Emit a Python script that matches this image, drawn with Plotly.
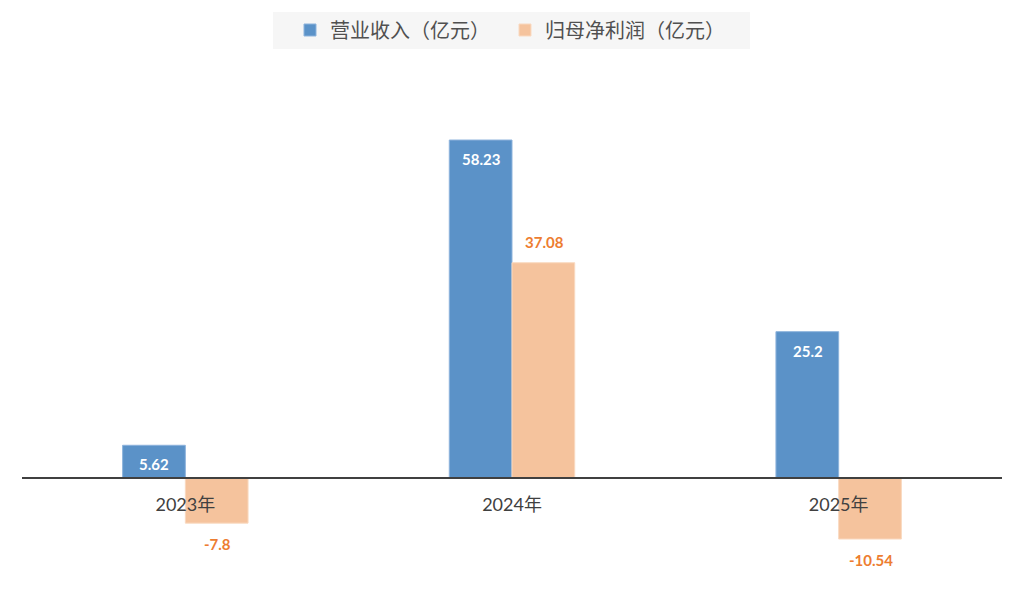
import plotly.graph_objects as go

# Data
years = ["2023年", "2024年", "2025年"]
revenue = [5.62, 58.23, 25.2]
net_profit = [-7.8, 37.08, -10.54]
revenue_labels = ["5.62", "58.23", "25.2"]
profit_labels = ["-7.8", "37.08", "-10.54"]

blue = "#5B92C8"
orange = "#F5C39D"
num_font = "Lato, Noto Sans CJK SC"

fig = go.Figure()

fig.add_trace(go.Bar(
    x=years, y=revenue, name="营业收入（亿元）",
    marker=dict(color=blue, line=dict(color="#8DB3DC", width=1)),
))

fig.add_trace(go.Bar(
    x=years, y=net_profit, name="归母净利润（亿元）",
    marker=dict(color=orange, line=dict(color="#F9D9C0", width=1)),
))

# value labels
for yr, v, lab in zip(years, revenue, revenue_labels):
    fig.add_annotation(
        x=yr, y=v, text=f"<b>{lab}</b>", showarrow=False,
        xshift=-31, yshift=-19,
        font=dict(color="white", size=15, family=num_font),
    )
for yr, v, lab in zip(years, net_profit, profit_labels):
    fig.add_annotation(
        x=yr, y=v, text=f"<b>{lab}</b>", showarrow=False,
        xshift=32, yshift=21 if v > 0 else -21,
        font=dict(color="#ED7D31", size=15, family=num_font),
    )

# light grey band behind the legend
fig.add_shape(
    type="rect", xref="paper", yref="paper", layer="below",
    x0=(265 - 14) / 980, x1=(742 - 14) / 980,
    y0=1 + 21 / 510, y1=1 + 58 / 510,
    fillcolor="#F6F6F6", line=dict(width=0),
)

# y range chosen so zero sits at ~20% of the plot height
y_lo, y_hi = -17.6, 70.3
zero_pos = -y_lo / (y_hi - y_lo)

fig.update_layout(
    width=1024, height=616,
    margin=dict(l=14, r=30, t=62, b=44, autoexpand=False),
    paper_bgcolor="white", plot_bgcolor="white",
    barmode="group", bargap=0.616, bargroupgap=0,
    font=dict(family="Noto Sans CJK SC, Lato", color="#404040"),
    showlegend=True,
    legend=dict(
        orientation="h", x=(282 - 14) / 980, xanchor="left",
        y=1 + 40 / 510, yanchor="middle",
        bgcolor="rgba(0,0,0,0)", font=dict(size=20, color="#505050"),
        itemwidth=30, entrywidth=170, traceorder="normal",
    ),
    xaxis=dict(
        anchor="free", position=zero_pos,
        showline=True, linecolor="#404040", linewidth=2,
        ticks="outside", ticklen=11, tickcolor="rgba(0,0,0,0)",
        tickfont=dict(size=18, color="#404040", family=num_font),
        showgrid=False,
    ),
    yaxis=dict(
        range=[y_lo, y_hi], visible=False, showgrid=False, zeroline=False,
    ),
)

fig.write_html("out.html")
